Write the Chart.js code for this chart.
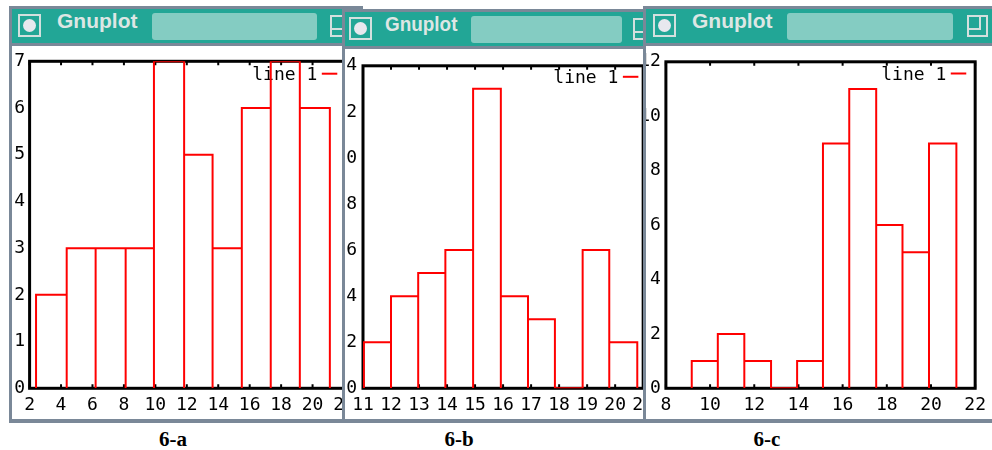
<!DOCTYPE html>
<html>
<head>
<meta charset="utf-8">
<script src="https://cdn.jsdelivr.net/npm/chart.js@4.4.1/dist/chart.umd.min.js"></script>
<style>
  body { margin: 0; width: 992px; height: 450px; background: #fff; position: relative; overflow: hidden; }
  .win { position: absolute; background: #7a8898; overflow: hidden; }
  .bar { position: absolute; left: 3px; top: 3px; right: 0; height: 34px; background: #22a696; }
  .body { position: absolute; left: 3px; top: 40px; right: 0; bottom: 4px; background: #fff; overflow: hidden; }
  .body canvas { position: absolute; }
  .btn { position: absolute; top: 5px; width: 19px; height: 19px; border: 2px solid #d3e0de; }
  .btn i { position: absolute; left: 3px; top: 3px; width: 13px; height: 13px; border-radius: 50%; background: #e8e8ee; }
  .nm { position: absolute; top: 0; line-height: 31px; font: bold 21px "Liberation Sans", Arial, sans-serif; color: #dde6e4; white-space: nowrap; }
  .stip { position: absolute; top: 4px; height: 27px; border-radius: 3px; background: #84ccc2; }
  .ico { position: absolute; top: 6px; width: 17px; height: 18px; border: 2px solid #d3e0de; }
  .ico i { position: absolute; left: -2px; top: -2px; width: 10px; height: 11px; border: 2px solid #d3e0de; }
  .cap { position: absolute; top: 427px; width: 100px; text-align: center; line-height: 24px;
         font: bold 21px "Liberation Serif", "Times New Roman", serif; color: #000; }
</style>
</head>
<body>

<div class="win" style="left:9px;top:6px;width:354px;height:417px">
  <div class="bar">
    <div class="btn" style="left:6px"><i></i></div>
    <span class="nm" style="left:45px">Gnuplot</span>
    <div class="stip" style="left:140px;width:165px"></div>
    <div class="ico" style="left:318px"><i></i></div>
  </div>
  <div class="body"><canvas id="chartA" width="360" height="377" style="left:-8px;top:0"></canvas></div>
</div>

<div class="win" style="left:342px;top:9px;width:313px;height:414px">
  <div class="bar">
    <div class="btn" style="left:4px"><i></i></div>
    <span class="nm" style="left:40px;transform:scaleX(0.9);transform-origin:left">Gnuplot</span>
    <div class="stip" style="left:126px;width:151px"></div>
    <div class="ico" style="left:288px"><i></i></div>
  </div>
  <div class="body"><canvas id="chartB" width="330" height="374" style="left:-15px;top:0"></canvas></div>
</div>

<div class="win" style="left:643px;top:6px;width:360px;height:417px">
  <div class="bar">
    <div class="btn" style="left:7px"><i></i></div>
    <span class="nm" style="left:46px">Gnuplot</span>
    <div class="stip" style="left:141px;width:166px"></div>
    <div class="ico" style="left:321px"><i></i></div>
  </div>
  <div class="body"><canvas id="chartC" width="359" height="377" style="left:-13px;top:0"></canvas></div>
</div>

<div class="cap" id="capA" style="left:123px"></div>
<div class="cap" id="capB" style="left:409px"></div>
<div class="cap" id="capC" style="left:717px"></div>

<script>
const edgesA = [2.41, 4.36, 6.20, 8.11, 9.91, 11.83, 13.64, 15.50, 17.34, 19.19, 21.10];
const countsA = [2, 3, 3, 3, 7, 5, 3, 6, 7, 6];
const xTicksA = [2, 4, 6, 8, 10, 12, 14, 16, 18, 20, 22];
const yTicksA = [0, 1, 2, 3, 4, 5, 6, 7];

const edgesB = [11.03, 12.00, 12.97, 13.94, 14.93, 15.92, 16.89, 17.85, 18.84, 19.79, 20.79];
const countsB = [2, 4, 5, 6, 13, 4, 3, 0, 6, 2];
const xTicksB = [11, 12, 13, 14, 15, 16, 17, 18, 19, 20, 21];
const yTicksB = [0, 2, 4, 6, 8, 10, 12, 14];

const edgesC = [9.17, 10.35, 11.55, 12.76, 13.94, 15.11, 16.30, 17.52, 18.71, 19.91, 21.15];
const countsC = [1, 2, 1, 0, 1, 9, 11, 6, 5, 9];
const xTicksC = [8, 10, 12, 14, 16, 18, 20, 22];
const yTicksC = [0, 2, 4, 6, 8, 10, 12];

const seriesLabel = 'line 1';
const panelNames = ['6-a', '6-b', '6-c'];

document.getElementById('capA').textContent = panelNames[0];
document.getElementById('capB').textContent = panelNames[1];
document.getElementById('capC').textContent = panelNames[2];

Chart.defaults.font.family = '"DejaVu Sans Mono", monospace';
Chart.defaults.font.size = 18;
Chart.defaults.color = '#000';

// outline of gnuplot "with boxes": up, across, down for every bin
function boxOutline(edges, counts) {
  const pts = [];
  counts.forEach((c, i) => {
    pts.push({x: edges[i], y: 0}, {x: edges[i], y: c}, {x: edges[i + 1], y: c}, {x: edges[i + 1], y: 0});
  });
  return pts;
}

// black frame, inward x ticks and the key, drawn under the red boxes
const gnuFrame = {
  id: 'gnuFrame',
  beforeDatasetsDraw(chart, args, opts) {
    const {ctx, chartArea: a} = chart;
    const x = chart.scales.x;
    ctx.save();
    ctx.strokeStyle = '#000';
    ctx.lineWidth = 2;
    x.ticks.forEach(t => {
      const px = x.getPixelForValue(t.value);
      ctx.beginPath();
      ctx.moveTo(px, a.top); ctx.lineTo(px, a.top + 4);
      ctx.moveTo(px, a.bottom); ctx.lineTo(px, a.bottom - 4);
      ctx.stroke();
    });
    ctx.lineWidth = 3;
    ctx.strokeRect(a.left, a.top, a.right - a.left, a.bottom - a.top);

    const xEnd = a.right - opts.inset;
    const y = a.top + opts.dy;
    ctx.strokeStyle = '#ff0000';
    ctx.lineWidth = 2;
    ctx.beginPath(); ctx.moveTo(xEnd - 15.5, y); ctx.lineTo(xEnd, y); ctx.stroke();
    ctx.fillStyle = '#000';
    ctx.font = '18px "DejaVu Sans Mono", monospace';
    ctx.textAlign = 'right';
    ctx.textBaseline = 'alphabetic';
    ctx.fillText(chart.data.datasets[0].label, xEnd - 20, y + 6);
    ctx.restore();
  }
};

function makeChart(id, edges, counts, xTicks, yTicks, g) {
  return new Chart(document.getElementById(id), {
    type: 'line',
    data: {
      datasets: [{
        label: seriesLabel,
        data: boxOutline(edges, counts),
        borderColor: '#ff0000',
        borderWidth: 2,
        pointRadius: 0,
        tension: 0,
        fill: false
      }]
    },
    plugins: [gnuFrame],
    options: {
      responsive: false,
      animation: false,
      events: [],
      layout: { autoPadding: false, padding: { left: 0, top: g.padTop, right: g.padRight, bottom: 0 } },
      plugins: {
        legend: { display: false },
        tooltip: { enabled: false },
        gnuFrame: { inset: g.keyInset, dy: g.keyDy }
      },
      scales: {
        x: {
          type: 'linear',
          min: xTicks[0],
          max: xTicks[xTicks.length - 1],
          afterBuildTicks: s => { s.ticks = xTicks.map(v => ({value: v})); },
          afterFit: s => { s.height = g.xH; },
          grid: { display: false, drawTicks: false },
          border: { display: false },
          ticks: { padding: 6, maxRotation: 0, autoSkip: false }
        },
        y: {
          type: 'linear',
          min: yTicks[0],
          max: yTicks[yTicks.length - 1],
          afterBuildTicks: s => { s.ticks = yTicks.map(v => ({value: v})); },
          afterFit: s => { s.width = g.yW; },
          grid: { display: false, drawTicks: false },
          border: { display: false },
          ticks: { padding: g.yPad, autoSkip: false }
        }
      }
    }
  });
}

makeChart('chartA', edgesA, countsA, xTicksA, yTicksA,
  { yW: 25.6, xH: 34.7, padTop: 7.3, padRight: 20, keyInset: 6.7, keyDy: 12.4, yPad: 4.5 });
makeChart('chartB', edgesB, countsB, xTicksB, yTicksB,
  { yW: 33, xH: 34.7, padTop: 7.7, padRight: 13.5, keyInset: 4.8, keyDy: 11, yPad: 6 });
makeChart('chartC', edgesC, countsC, xTicksC, yTicksC,
  { yW: 32.9, xH: 34.7, padTop: 7.3, padRight: 10.1, keyInset: 8.9, keyDy: 11.7, yPad: 5 });
</script>
</body>
</html>
